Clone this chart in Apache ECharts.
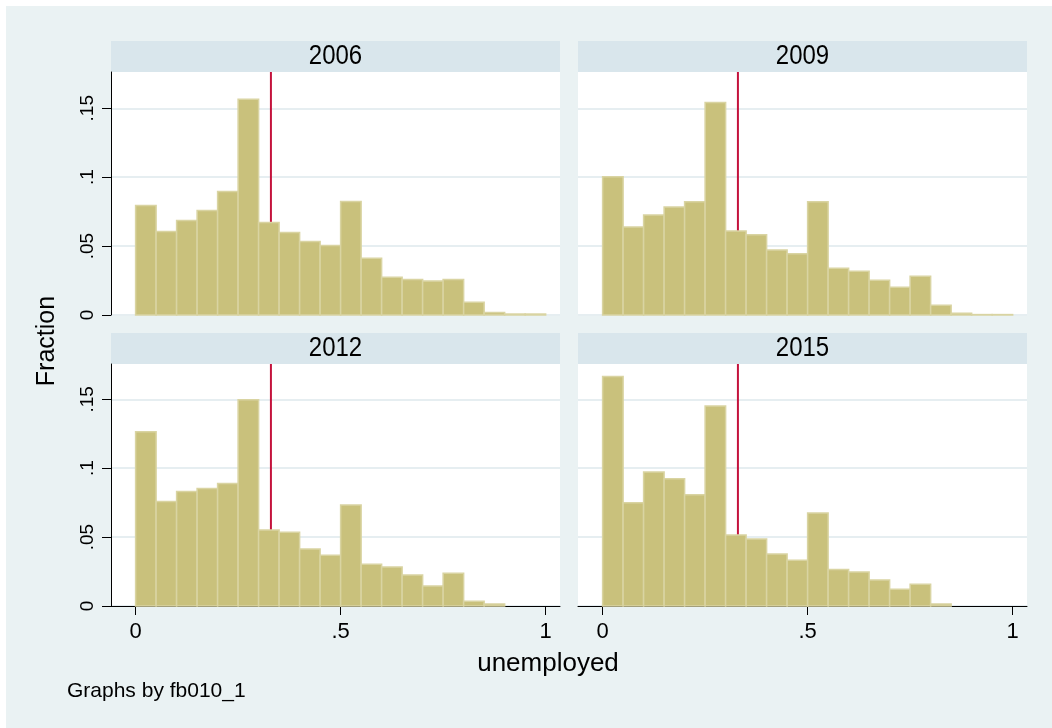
<!DOCTYPE html>
<html>
<head>
<meta charset="utf-8">
<script src="https://cdn.jsdelivr.net/npm/echarts@6/dist/echarts.min.js"></script>
<style>
  html, body { margin: 0; padding: 0; background: #ffffff; }
  #chart { width: 1052px; height: 728px; }
</style>
</head>
<body>
<div id="chart"></div>
<script>
// Histogram of the unemployed share, one panel per survey wave
const years = ['2006', '2009', '2012', '2015'];
const binWidth = 0.05;
const binStarts = [0, 0.05, 0.10, 0.15, 0.20, 0.25, 0.30, 0.35, 0.40, 0.45,
                   0.50, 0.55, 0.60, 0.65, 0.70, 0.75, 0.80, 0.85, 0.90, 0.95];

// Fraction of observations per bin
const frac2006 = [0.0795, 0.0606, 0.0686, 0.0758, 0.0896, 0.1565, 0.0671, 0.0599, 0.0534, 0.0505,
                  0.0824, 0.0411, 0.0273, 0.0258, 0.0246, 0.0258, 0.0092, 0.0019, 0.0007, 0.0007];
const frac2009 = [0.1003, 0.0639, 0.0726, 0.0784, 0.0821, 0.1542, 0.0609, 0.0583, 0.0471, 0.0444,
                  0.0821, 0.0340, 0.0318, 0.0252, 0.0201, 0.0282, 0.0070, 0.0012, 0.0003, 0.0003];
const frac2012 = [0.1265, 0.0758, 0.0831, 0.0853, 0.0889, 0.1497, 0.0552, 0.0535, 0.0414, 0.0368,
                  0.0732, 0.0303, 0.0283, 0.0225, 0.0145, 0.0237, 0.0034, 0.0015, 0, 0];
const frac2015 = [0.1665, 0.0749, 0.0972, 0.0923, 0.0807, 0.1451, 0.0516, 0.0487, 0.0378, 0.0332,
                  0.0674, 0.0264, 0.0247, 0.0189, 0.0121, 0.0158, 0.0015, 0, 0, 0];
const panelValues = [frac2006, frac2009, frac2012, frac2015];

// Reference line drawn in every panel
const refLine = 0.33;

// Axis ticks and labels
const yTicks = [0, 0.05, 0.1, 0.15];
const yTickLabels = ['0', '.05', '.1', '.15'];
const xTicks = [0, 0.5, 1];
const xTickLabels = ['0', '.5', '1'];

const FONT = "'Liberation Sans', Arial, Helvetica, sans-serif";
const BAR_FILL = '#C9C17C';
const BAR_EDGE = '#D9D4A2';
const RED = '#C4123C';
const GRIDLINE = '#E6EEF1';
const STRIP = '#D9E6EC';

// Panel geometry
const panels = [
  { left: 111, top: 72,  height: 243, showX: false, showY: true,  yMax: 0.1763 },
  { left: 578, top: 72,  height: 243, showX: false, showY: false, yMax: 0.1763 },
  { left: 111, top: 364, height: 242, showX: true,  showY: true,  yMax: 0.1756 },
  { left: 578, top: 364, height: 242, showX: true,  showY: false, yMax: 0.1756 }
];
const panelWidth = 449;
const stripHeight = 31;

function labelFor(values, labels) {
  return function (v) {
    for (let i = 0; i < values.length; i++) {
      if (Math.abs(values[i] - v) < 1e-9) return labels[i];
    }
    return '';
  };
}

const grids = [], xAxes = [], yAxes = [], series = [], graphics = [];

// Page frame: thin white margin on the top and left edges
graphics.push({ type: 'rect', shape: { x: 0, y: 0, width: 1052, height: 6 }, style: { fill: '#ffffff' }, z: -1 });
graphics.push({ type: 'rect', shape: { x: 0, y: 0, width: 6, height: 728 }, style: { fill: '#ffffff' }, z: -1 });

panels.forEach(function (p, i) {
  grids.push({
    left: p.left, top: p.top, width: panelWidth, height: p.height,
    show: true, backgroundColor: '#ffffff', borderWidth: 0, containLabel: false
  });

  xAxes.push({
    type: 'value', gridIndex: i, min: -0.06, max: 1.035,
    axisLine: { show: p.showX, onZero: false, lineStyle: { color: '#000', width: 1 } },
    axisTick: { show: p.showX, length: 9, customValues: xTicks, lineStyle: { color: '#000', width: 1 } },
    axisLabel: {
      show: p.showX, customValues: xTicks, margin: 15,
      fontFamily: FONT, fontSize: 22, color: '#000',
      formatter: labelFor(xTicks, xTickLabels)
    },
    splitLine: { show: false }
  });

  yAxes.push({
    type: 'value', gridIndex: i, min: 0, max: p.yMax,
    axisLine: { show: p.showY, onZero: false, lineStyle: { color: '#000', width: 1 } },
    axisTick: { show: p.showY, length: 9, customValues: yTicks, lineStyle: { color: '#000', width: 1 } },
    axisLabel: {
      show: p.showY, customValues: yTicks, rotate: 90, margin: 14,
      fontFamily: FONT, fontSize: 19, color: '#000',
      formatter: labelFor(yTicks, yTickLabels)
    },
    splitLine: { show: true, lineStyle: { color: GRIDLINE, width: 2 } }
  });

  // Vertical reference line, drawn beneath the bars
  series.push({
    type: 'line', xAxisIndex: i, yAxisIndex: i, z: 1,
    data: [[refLine, 0], [refLine, p.yMax]],
    symbol: 'none', silent: true, animation: false,
    lineStyle: { color: RED, width: 2 }
  });

  // Histogram bars built from bin edges
  const vals = panelValues[i];
  series.push({
    type: 'custom', xAxisIndex: i, yAxisIndex: i, z: 2, animation: false,
    data: binStarts.map(function (s, k) { return [s, s + binWidth, vals[k]]; }),
    encode: { x: [0, 1], y: 2 },
    renderItem: function (params, api) {
      const v = api.value(2);
      if (!(v > 0)) return null;
      const a = api.coord([api.value(0), v]);
      const b = api.coord([api.value(1), 0]);
      return {
        type: 'rect',
        shape: { x: a[0], y: a[1], width: b[0] - a[0], height: b[1] - a[1] },
        style: { fill: BAR_FILL, stroke: BAR_EDGE, lineWidth: 1.5 }
      };
    }
  });

  // Panel header strip with the wave year
  graphics.push({
    type: 'group', left: p.left, top: p.top - stripHeight,
    children: [
      { type: 'rect', shape: { x: 0, y: 0, width: panelWidth, height: stripHeight }, style: { fill: STRIP } },
      { type: 'text', x: panelWidth / 2, y: stripHeight / 2, scaleY: 1.12,
        style: { text: years[i], fill: '#000', font: '24px ' + FONT, textAlign: 'center', textVerticalAlign: 'middle' } }
    ]
  });
});

// Shared axis titles and the note
graphics.push({
  type: 'text', x: 47, y: 341, rotation: Math.PI / 2,
  style: { text: 'Fraction', fill: '#000', font: '25px ' + FONT, textAlign: 'center', textVerticalAlign: 'middle' }
});
graphics.push({
  type: 'text', x: 548, y: 664,
  style: { text: 'unemployed', fill: '#000', font: '26px ' + FONT, textAlign: 'center', textVerticalAlign: 'middle' }
});
graphics.push({
  type: 'text', x: 67, y: 691,
  style: { text: 'Graphs by fb010_1', fill: '#000', font: '21px ' + FONT, textAlign: 'left', textVerticalAlign: 'middle' }
});

const chart = echarts.init(document.getElementById('chart'), null, { renderer: 'canvas' });
chart.setOption({
  backgroundColor: '#EAF2F3',
  animation: false,
  grid: grids,
  xAxis: xAxes,
  yAxis: yAxes,
  series: series,
  graphic: { elements: graphics }
});
</script>
</body>
</html>
